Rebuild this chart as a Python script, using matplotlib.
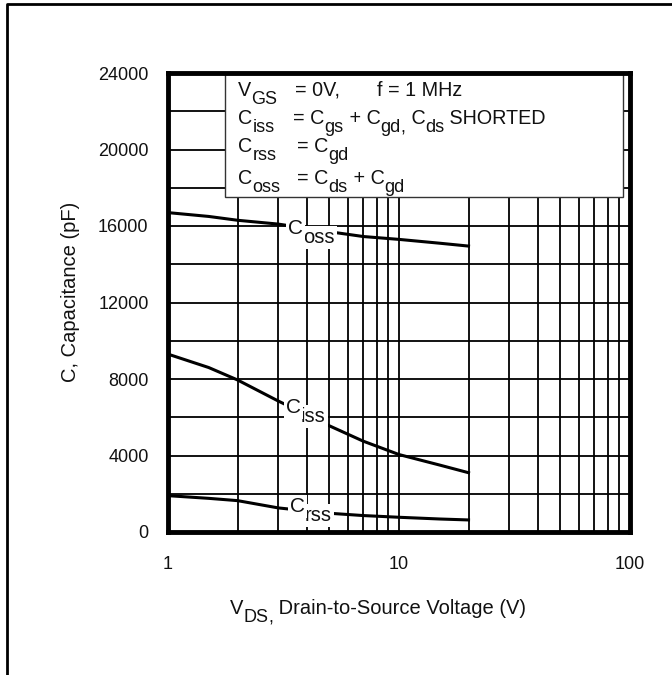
import matplotlib
matplotlib.use('Agg')
import matplotlib.pyplot as plt
from matplotlib.lines import Line2D
from matplotlib.patches import Rectangle
from matplotlib.ticker import FixedLocator, MultipleLocator, NullFormatter

plt.rcParams['font.family'] = ['Liberation Sans', 'DejaVu Sans']

# values (pF vs V)
vds = [1, 1.5, 2, 3, 5, 7, 10, 15, 20]
coss = [16700, 16500, 16300, 16100, 15700, 15450, 15300, 15100, 14950]
ciss = [9300, 8600, 7950, 6850, 5550, 4750, 4050, 3500, 3100]
crss = [1900, 1760, 1640, 1260, 980, 860, 770, 680, 630]

x_ticks = [1, 10, 100]
x_tick_labels = ['1', '10', '100']
y_ticks = [0, 4000, 8000, 12000, 16000, 20000, 24000]

ink = '#111111'
W, H = 672, 675
fig = plt.figure(figsize=(W / 100, H / 100), dpi=100)
ax = fig.add_axes([168 / W, 1 - 532 / H, 462 / W, 459 / H])


def rich(x, y, parts, size=14.2, sub_size=13, drop=6, color=ink, z=7,
         bbox=None):
    # x, y: pixel position (from top-left) of the baseline start
    prev = None
    for s, sub in parts:
        kw = dict(fontsize=sub_size if sub else size, va='baseline',
                  ha='left', color=color, zorder=z)
        if bbox:
            kw['bbox'] = bbox
        if prev is None:
            prev = fig.text(x / W, 1 - y / H, s, **kw)
        else:
            prev = ax.annotate(s, xy=(1, 1 - y / H),
                               xycoords=(prev, 'figure fraction'),
                               xytext=(0, -drop if sub else 0),
                               textcoords='offset points', **kw)
    return prev


def curve_label(x, y, parts):
    # white patch behind first, then the text on top
    rich(x, y, parts, size=15, sub_size=14.5, drop=6.5, color=(1, 1, 1, 0),
         z=6, bbox=dict(fc='white', ec='none', pad=1.5))
    rich(x, y, parts, size=15, sub_size=14.5, drop=6.5)


ax.set_xscale('log')
ax.set_xlim(1, 100)
ax.set_ylim(0, 24000)

ax.xaxis.set_major_locator(FixedLocator(x_ticks))
ax.set_xticklabels(x_tick_labels)
ax.xaxis.set_minor_formatter(NullFormatter())
ax.set_yticks(y_ticks)
ax.yaxis.set_minor_locator(MultipleLocator(2000))

ax.tick_params(which='both', length=0, labelsize=13, colors=ink)
ax.tick_params(axis='x', pad=17)
ax.tick_params(axis='y', pad=14)

ax.grid(which='both', color='black', lw=1.3, zorder=1)
ax.set_axisbelow(True)
for sp in ax.spines.values():
    sp.set_linewidth(3.5)
    sp.set_zorder(8)

for c in (coss, ciss, crss):
    ax.plot(vds, c, color='black', lw=2.2, zorder=4)

# conditions box
ax.add_patch(Rectangle((0.1234, 0.730), 0.862, 0.27, transform=ax.transAxes,
                       fc='white', ec='#333333', lw=1.0, zorder=5))

rich(238, 96, [('V', False), ('GS', True)])
rich(295, 96, [('= 0V,', False)])
rich(377, 96, [('f = 1 MHz', False)])
rich(238, 124, [('C', False), ('iss', True)])
rich(293, 124, [('= C', False), ('gs', True), (' + C', False), ('gd', True),
                (',', True), (' C', False), ('ds', True), (' SHORTED', False)])
rich(238, 152, [('C', False), ('rss', True)])
rich(297, 152, [('= C', False), ('gd', True)])
rich(238, 184, [('C', False), ('oss', True)])
rich(297, 184, [('= C', False), ('ds', True), (' + C', False), ('gd', True)])

# curve labels
curve_label(288, 234, [('C', False), ('oss', True)])
curve_label(286, 413, [('C', False), ('iss', True)])
curve_label(290, 512, [('C', False), ('rss', True)])

# axis labels
rich(230, 614, [('V', False), ('DS', True), (',', True),
                (' Drain-to-Source Voltage (V)', False)], size=14.5, sub_size=13)
fig.text(70 / W, 1 - 292 / H, 'C, Capacitance (pF)', rotation=90,
         ha='center', va='center', fontsize=14.5, color=ink)

# outer frame (top and left edges only)
fig.add_artist(Line2D([7 / W, 7 / W, 1.0], [0.0, 1 - 4 / H, 1 - 4 / H],
                      transform=fig.transFigure, color='black', lw=2))

fig.savefig('out.png', dpi=100)
